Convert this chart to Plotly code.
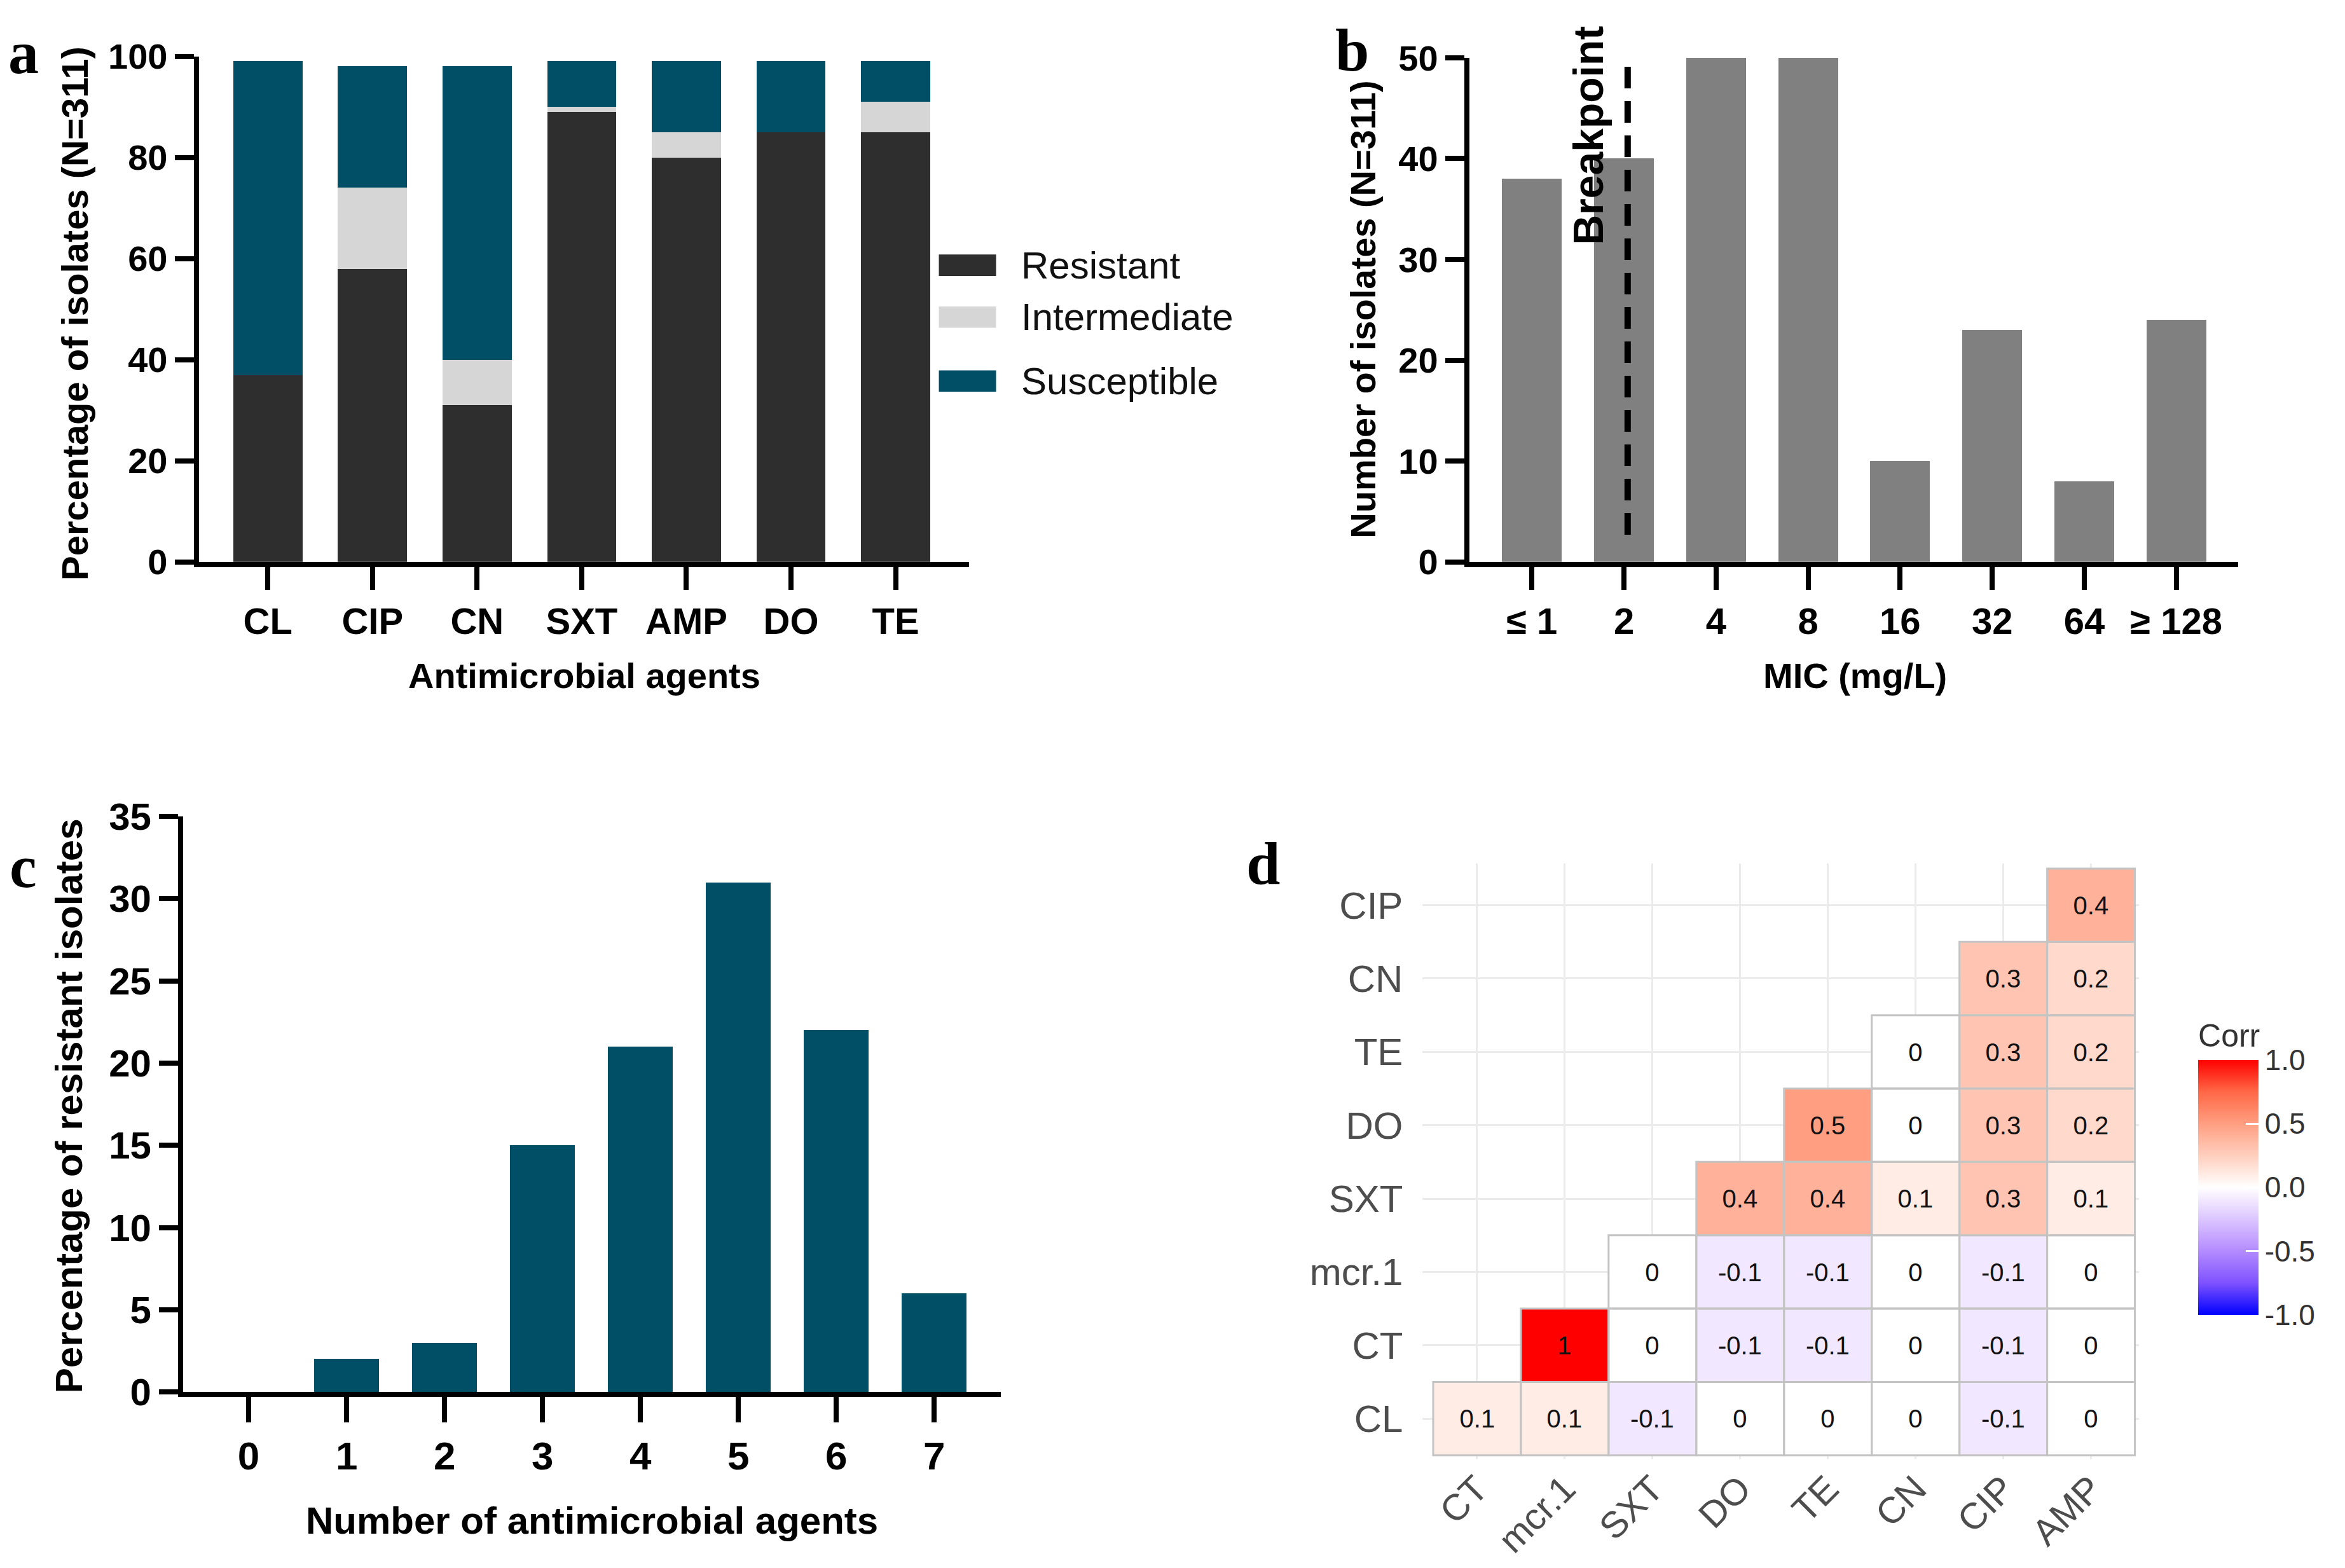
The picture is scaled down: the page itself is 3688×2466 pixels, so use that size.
import plotly.graph_objects as go

SANS = "Liberation Sans, Arial, sans-serif"
SERIF = "Liberation Serif, Times New Roman, serif"

# panel a - susceptibility profile (% of isolates)
agents = ["CL", "CIP", "CN", "SXT", "AMP", "DO", "TE"]
resistant = [37, 58, 31, 89, 80, 85, 85]
intermediate = [0, 16, 9, 1, 5, 0, 6]
susceptible = [62, 24, 58, 9, 14, 14, 8]
status_names = ["Resistant", "Intermediate", "Susceptible"]
status_colors = ["#2e2e2e", "#d6d6d6", "#004f66"]

# panel b - MIC distribution
mic_labels = ["≤ 1", "2", "4", "8", "16", "32", "64", "≥ 128"]
mic_counts = [38, 40, 50, 50, 10, 23, 8, 24]

# panel c - multidrug resistance
n_agents = ["0", "1", "2", "3", "4", "5", "6", "7"]
pct_resistant = [0, 2, 3, 15, 21, 31, 22, 6]

# panel d - correlation matrix (rows bottom -> top)
corr_x = ["CT", "mcr.1", "SXT", "DO", "TE", "CN", "CIP", "AMP"]
corr_y = ["CL", "CT", "mcr.1", "SXT", "DO", "TE", "CN", "CIP"]
corr_cl = [0.1, 0.1, -0.1, 0, 0, 0, -0.1, 0]
corr_ct = [None, 1, 0, -0.1, -0.1, 0, -0.1, 0]
corr_mcr = [None, None, 0, -0.1, -0.1, 0, -0.1, 0]
corr_sxt = [None, None, None, 0.4, 0.4, 0.1, 0.3, 0.1]
corr_do = [None, None, None, None, 0.5, 0, 0.3, 0.2]
corr_te = [None, None, None, None, None, 0, 0.3, 0.2]
corr_cn = [None, None, None, None, None, None, 0.3, 0.2]
corr_cip = [None, None, None, None, None, None, None, 0.4]
corr = [corr_cl, corr_ct, corr_mcr, corr_sxt, corr_do, corr_te, corr_cn, corr_cip]

# blue-white-red like ggcorrplot (gradient2)
corr_scale = [
    [0.0, "rgb(0,0,255)"], [0.125, "rgb(126,82,255)"], [0.25, "rgb(179,139,255)"],
    [0.375, "rgb(220,197,255)"], [0.5, "rgb(255,255,255)"], [0.625, "rgb(255,207,190)"],
    [0.75, "rgb(255,158,129)"], [0.875, "rgb(255,104,70)"], [1.0, "rgb(255,0,0)"],
]

fig = go.Figure()

# panel a stacked bars
for name, vals, col in zip(status_names, [resistant, intermediate, susceptible], status_colors):
    fig.add_trace(go.Bar(x=agents, y=vals, name=name, marker=dict(color=col, line=dict(width=0)),
                         width=0.66, xaxis="x", yaxis="y", showlegend=False))

# panel b
fig.add_trace(go.Bar(x=mic_labels, y=mic_counts, marker=dict(color="#808080", line=dict(width=0)),
                     width=0.65, xaxis="x2", yaxis="y2", showlegend=False))

# panel c
fig.add_trace(go.Bar(x=n_agents, y=pct_resistant, marker=dict(color="#004f66", line=dict(width=0)),
                     width=0.66, xaxis="x3", yaxis="y3", showlegend=False))

# panel d heatmap
corr_text = [["" if v is None else f"{v:g}" for v in row] for row in corr]
fig.add_trace(go.Heatmap(
    x=corr_x, y=corr_y, z=corr, text=corr_text, texttemplate="%{text}",
    textfont=dict(family=SANS, size=40, color="#111111"),
    colorscale=corr_scale, zmin=-1, zmax=1, xaxis="x4", yaxis="y4", hoverongaps=False,
    colorbar=dict(
        x=0.9325, xanchor="left", y=0.151, yanchor="bottom",
        thickness=95, lenmode="pixels", len=482, outlinewidth=0,
        title=dict(text="Corr", side="top", font=dict(family=SANS, size=50, color="#333333")),
        tickvals=[-1, -0.5, 0, 0.5, 1], ticktext=["-1.0", "-0.5", "0.0", "0.5", "1.0"],
        ticks="inside", tickcolor="white", ticklen=20, tickwidth=3,
        tickfont=dict(family=SANS, size=46, color="#333333"),
    ),
))

shapes = []
for i, row in enumerate(corr):
    for j, v in enumerate(row):
        if v is None:
            continue
        shapes.append(dict(type="rect", xref="x4", yref="y4", x0=j - 0.5, x1=j + 0.5,
                           y0=i - 0.5, y1=i + 0.5, line=dict(color="#c4c4c4", width=3),
                           layer="above"))

# breakpoint line in panel b
shapes.append(dict(type="line", xref="x2", yref="y2", x0=1.04, x1=1.04, y0=2.7, y1=49.7,
                   line=dict(color="black", width=10, dash="34px,20px")))

# custom legend for panel a
leg_y = [0.8432, 0.8092, 0.7673]
annotations = []
for name, col, yy in zip(status_names, status_colors, leg_y):
    shapes.append(dict(type="rect", xref="paper", yref="paper", x0=0.3982, x1=0.4226,
                       y0=yy - 0.007, y1=yy + 0.007, fillcolor=col, line=dict(width=0)))
    annotations.append(dict(text=name, xref="paper", yref="paper", x=0.4328, y=yy,
                            xanchor="left", yanchor="middle", showarrow=False,
                            font=dict(family=SANS, size=60, color="#111111")))


def title_ann(text, x, y, size, angle=0):
    return dict(text=text, xref="paper", yref="paper", x=x, y=y, textangle=angle,
                xanchor="center", yanchor="middle", showarrow=False,
                font=dict(family=SANS, size=size, color="black", weight="bold"))


annotations += [
    title_ann("Percentage of isolates (N=311)", 0.0295, 0.8115, 58, -90),
    title_ann("Antimicrobial agents", 0.247, 0.5743, 56),
    title_ann("Number of isolates (N=311)", 0.5791, 0.8141, 56, -90),
    title_ann("MIC (mg/L)", 0.789, 0.5743, 56),
    title_ann("Percentage of resistant isolates", 0.0271, 0.2921, 60, -90),
    title_ann("Number of antimicrobial agents", 0.2502, 0.0204, 60),
    dict(text="Breakpoint", xref="x2", yref="y2", x=0.61, y=42.3, textangle=-90,
         showarrow=False, font=dict(family=SANS, size=66, color="black", weight="bold")),
]
for letter, x, y in [("a", 0.0078, 0.9825), ("b", 0.5745, 0.9845), ("c", 0.0078, 0.4491), ("d", 0.5365, 0.4512)]:
    annotations.append(dict(text=letter, xref="paper", yref="paper", x=x, y=y, showarrow=False,
                            xanchor="center", yanchor="middle",
                            font=dict(family=SERIF, size=96, color="black", weight="bold")))


def prism_x(domain, anchor, cats, rng, size, ticklen):
    return dict(domain=domain, anchor=anchor, type="category", categoryorder="array",
                categoryarray=cats, range=rng, showline=True, linewidth=8, linecolor="black",
                ticks="outside", ticklen=ticklen, tickwidth=8, tickcolor="black",
                showgrid=False, zeroline=False,
                tickfont=dict(family=SANS, size=size, color="black", weight="bold"))


def prism_y(domain, anchor, rng, dtick, size):
    return dict(domain=domain, anchor=anchor, range=rng, dtick=dtick, showline=True,
                linewidth=8, linecolor="black", ticks="outside", ticklen=30, tickwidth=8,
                tickcolor="black", showgrid=False, zeroline=False,
                tickfont=dict(family=SANS, size=size, color="black", weight="bold"))


fig.update_layout(
    width=3688, height=2466, margin=dict(l=0, r=0, t=0, b=0),
    paper_bgcolor="white", plot_bgcolor="white", barmode="stack", showlegend=False,
    xaxis=prism_x([0.0826, 0.411], "y", agents, [-0.66, 6.7], 58, 36),
    yaxis=prism_y([0.6487, 0.9802], "x", [0, 100], 20, 56),
    xaxis2=prism_x([0.6244, 0.9522], "y2", mic_labels, [-0.68, 7.67], 58, 36),
    yaxis2=prism_y([0.6487, 0.9792], "x2", [0, 50], 10, 56),
    xaxis3=prism_x([0.0759, 0.4246], "y3", n_agents, [-0.67, 7.68], 62, 40),
    yaxis3=prism_y([0.1046, 0.4818], "x3", [0, 35], 5, 60),
    xaxis4=dict(domain=[0.6045, 0.9101], anchor="y4", type="category", categoryorder="array",
                categoryarray=corr_x, range=[-0.62, 7.55], showline=False, ticks="",
                showgrid=True, gridcolor="#ebebeb", gridwidth=3, zeroline=False, tickangle=-45,
                tickfont=dict(family=SANS, size=58, color="#4d4d4d")),
    yaxis4=dict(domain=[0.0606, 0.4511], anchor="x4", type="category", categoryorder="array",
                categoryarray=corr_y, range=[-0.55, 7.57], showline=False, ticks="",
                showgrid=True, gridcolor="#ebebeb", gridwidth=3, zeroline=False,
                ticklabelstandoff=30,
                tickfont=dict(family=SANS, size=60, color="#4d4d4d")),
    shapes=shapes,
    annotations=annotations,
)

fig.write_html("out.html")
